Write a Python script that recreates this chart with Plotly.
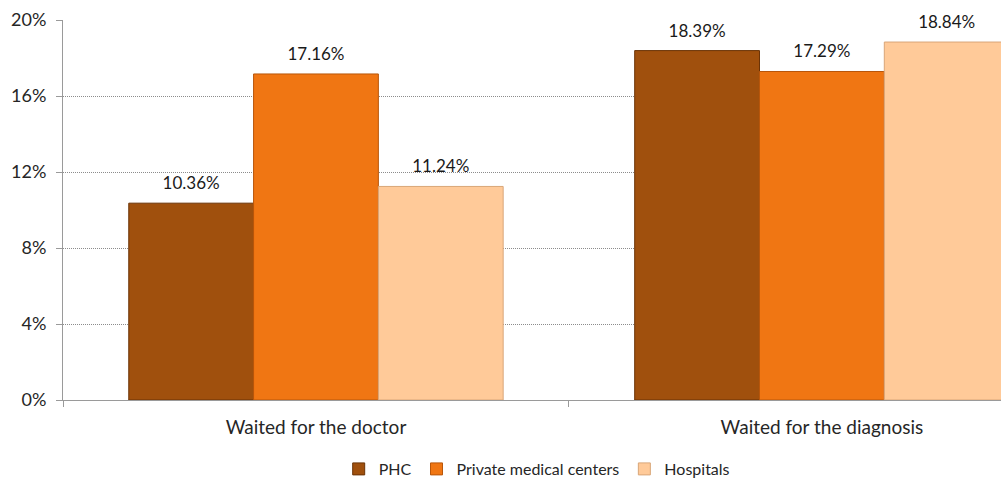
import plotly.graph_objects as go

categories = ["Waited for the doctor", "Waited for the diagnosis"]
series_names = ["PHC", "Private medical centers", "Hospitals"]
phc = [10.36, 18.39]
private = [17.16, 17.29]
hospitals = [11.24, 18.84]
y_ticks = [0, 4, 8, 12, 16, 20]

colors = ["#A0500D", "#F07613", "#FFCA99"]
edges = ["#6B3306", "#B8560A", "#D9A678"]
FONT = "Lato, sans-serif"

fig = go.Figure()
for name, vals, c, e in zip(series_names, [phc, private, hospitals], colors, edges):
    fig.add_trace(go.Bar(
        x=categories, y=vals, name=name,
        marker=dict(color=c, line=dict(color=e, width=1)),
    ))
for name, vals in zip(series_names, [phc, private, hospitals]):
    fig.add_trace(go.Scatter(
        x=categories, y=vals, name=name + " labels",
        mode="markers+text",
        marker=dict(size=14, color="rgba(0,0,0,0)"),
        text=[f"{v:.2f}%" for v in vals],
        textposition="top center",
        textfont=dict(family=FONT, size=17, color="#1a1a1a"),
        showlegend=False, hoverinfo="skip", cliponaxis=False,
    ))

fig.update_layout(
    barmode="group",
    scattermode="group",
    bargap=0.26,
    bargroupgap=0,
    scattergap=0.26,
    width=1001, height=486,
    margin=dict(l=63, r=0, t=20, b=85),
    plot_bgcolor="white", paper_bgcolor="white",
    font=dict(family=FONT, size=18, color="#262626"),
    showlegend=True,
    legend=dict(orientation="h", x=0.505, xanchor="center", y=-0.181, yanchor="middle",
                font=dict(size=16), itemwidth=30, traceorder="normal"),
)
fig.update_xaxes(
    type="category", range=[-0.5, 1.354],
    showline=True, linecolor="#9a9a9a", linewidth=1,
    ticks="outside", tickson="boundaries", ticklen=6, tickcolor="#9a9a9a",
    ticklabelstandoff=10,
    showgrid=False, tickfont=dict(size=19),
)
fig.update_yaxes(
    range=[0, 20], tickvals=y_ticks, ticktext=[f"{t}%" for t in y_ticks],
    showline=True, linecolor="#9a9a9a", linewidth=1,
    ticks="outside", ticklen=6, tickcolor="#9a9a9a", ticklabelstandoff=6,
    showgrid=True, gridcolor="#8c8c8c", griddash="1px,1px", gridwidth=1,
    zeroline=False, tickfont=dict(size=18),
)

fig.write_html("out.html", config={"displayModeBar": False},
               post_script="document.body.style.margin='0';document.body.style.overflow='hidden';")
